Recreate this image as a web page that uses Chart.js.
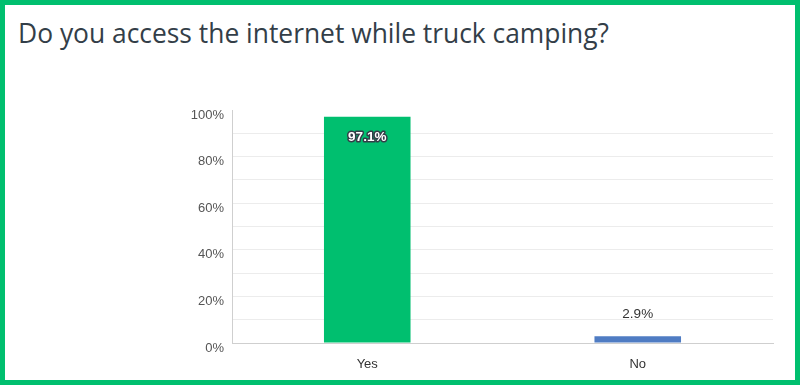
<!DOCTYPE html>
<html>
<head>
<meta charset="utf-8">
<script src="https://cdn.jsdelivr.net/npm/chart.js@4/dist/chart.umd.min.js"></script>
<style>
  body { margin: 0; background: #fff; }
  #wrap { position: relative; width: 800px; height: 385px; box-sizing: border-box; border: 5px solid #00bf6f; background: #fff; }
  #title { position: absolute; left: 13px; top: 10px; font-family: "Open Sans", sans-serif; font-weight: 400; font-size: 26.4px; color: #333e48; white-space: nowrap; }
  #box { position: absolute; left: 0; top: 0; width: 790px; height: 375px; }
</style>
</head>
<body>
<div id="wrap">
  <div id="title">Do you access the internet while truck camping?</div>
  <div id="box"><canvas id="myChart"></canvas></div>
</div>
<script>
const answers = ['Yes', 'No'];
const percents = [97.1, 2.9];
const barColors = ['#00bf6f', '#4f7cc3'];
const yTicks = [0, 20, 40, 60, 80, 100];

// labels on the bars: big bar gets outlined text inside, small bar gets it above
const barLabels = {
    id: 'barLabels',
    afterDatasetsDraw(chart) {
        let c = chart.ctx;
        let meta = chart.getDatasetMeta(0);
        c.save();
        c.textAlign = 'center';
        c.textBaseline = 'middle';
        meta.data.forEach((bar, i) => {
            let txt = percents[i].toFixed(1) + '%';
            let h = bar.base - bar.y;
            if (h > 40) {
                c.font = 'bold 13.5px "Liberation Sans", Arial, sans-serif';
                c.lineWidth = 3;
                c.lineJoin = 'round';
                c.strokeStyle = '#333e48';
                c.strokeText(txt, bar.x, bar.y + 21);
                c.fillStyle = '#fff';
                c.fillText(txt, bar.x, bar.y + 21);
            } else {
                c.font = '13.5px "Liberation Sans", Arial, sans-serif';
                c.fillStyle = '#333';
                c.fillText(txt, bar.x, bar.y - 22);
            }
        });
        c.restore();
    }
};

const ctx = document.getElementById('myChart').getContext('2d');
let myChart = new Chart(ctx, {
    type: 'bar',
    data: {
        labels: answers,
        datasets: [{ data: percents, backgroundColor: barColors, categoryPercentage: 1, barPercentage: 0.32 }]
    },
    options: {
        responsive: true,
        maintainAspectRatio: false,
        animation: false,
        layout: { padding: { top: 105, left: 167, right: 22, bottom: 0 } },
        plugins: { legend: { display: false }, tooltip: { enabled: false } },
        scales: {
            x: {
                afterFit: s => { s.height = 37; },
                grid: { display: false, drawTicks: false },
                border: { display: true, color: '#cfcfcf', width: 1 },
                ticks: { padding: 14, color: '#333', font: { family: '"Liberation Sans", Arial, sans-serif', size: 13 } }
            },
            y: {
                min: 0, max: 100,
                afterFit: s => { s.width = 60; },
                afterBuildTicks: s => { s.ticks = [0, 10, 20, 30, 40, 50, 60, 70, 80, 90, 100].map(v => ({ value: v })); },
                grid: {
                    drawTicks: false,
                    color: g => (g.tick && g.tick.value === 100) ? 'rgba(0,0,0,0)' : '#ececec'
                },
                border: { display: true, color: '#cfcfcf', width: 1 },
                ticks: {
                    padding: 8,
                    labelOffset: 5,
                    color: '#555',
                    font: { family: '"Liberation Sans", Arial, sans-serif', size: 13 },
                    callback: v => yTicks.includes(v) ? v + '%' : ''
                }
            }
        }
    },
    plugins: [barLabels]
});
</script>
</body>
</html>
